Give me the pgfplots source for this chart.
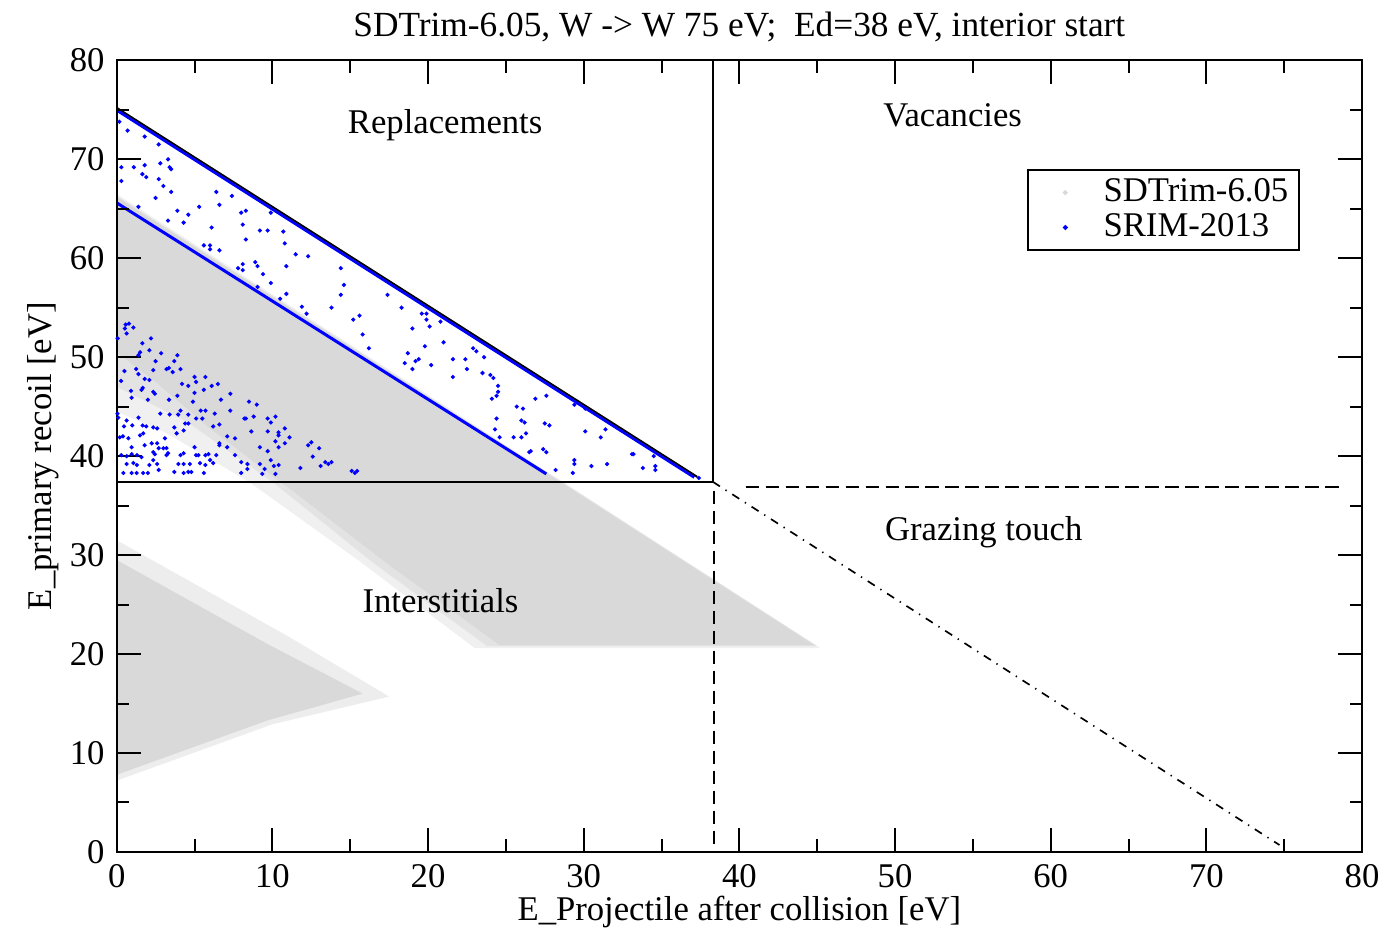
\documentclass[border=0pt]{standalone}
\usepackage{fontspec}
\setmainfont{Liberation Serif}
\usepackage{pgfplots}
\pgfplotsset{compat=1.18}

% SRIM-2013 points (band between the two lines)
\pgfplotstableread{
x y
0.17 73.8
0.7 72.9
1.8 72.3
2.7 71.5
3.3 70.0
2.8 69.6
1.8 69.4
1.1 69.2
0.3 69.2
3.4 69.2
3.5 69.0
1.65 68.5
1.9 68.2
2.7 68.0
0.3 67.8
3.0 67.3
3.5 66.7
6.4 66.7
7.4 66.3
2.5 66.1
6.6 65.4
5.3 65.2
1.4 65.2
3.9 64.8
8.0 64.6
8.3 64.8
9.9 64.6
4.6 64.4
3.3 63.8
4.3 63.6
8.1 63.4
6.1 63.1
9.2 62.8
9.7 62.8
10.7 62.7
8.3 61.9
10.8 61.5
5.6 61.3
6.0 61.3
6.0 60.9
6.6 60.8
11.5 60.4
12.3 60.2
8.9 59.6
9.05 59.2
8.1 59.4
8.1 58.8
10.9 59.2
7.8 59.0
9.4 58.4
9.9 57.5
9.05 57.1
10.9 56.4
10.5 55.9
11.9 55.1
14.4 59.0
14.6 57.3
14.4 56.3
17.4 56.3
13.8 55.0
12.2 54.4
15.6 54.2
15.2 53.8
18.3 55.0
19.6 54.4
19.9 54.4
19.9 53.8
20.8 53.6
20.1 53.1
19.0 52.9
15.8 52.3
21.0 51.5
19.8 51.1
16.2 50.9
22.9 50.9
23.1 50.6
18.7 50.4
23.6 50.0
19.4 49.8
19.2 49.6
18.5 49.4
21.6 49.8
22.4 49.8
20.2 49.2
19.0 48.8
22.5 48.8
23.5 48.4
24.0 48.2
24.2 47.9
21.6 48.0
25.7 45.0
26.1 44.8
26.9 45.8
27.6 46.1
24.4 46.1
24.5 46.5
24.1 45.8
24.5 47.1
24.4 43.8
26.0 43.6
26.2 43.4
27.5 43.3
27.8 43.1
26.3 42.3
24.3 42.7
24.6 41.9
25.5 41.9
26.0 41.9
30.1 42.5
31.1 41.9
31.4 42.7
30.1 44.8
29.4 45.2
26.5 40.4
26.6 40.5
27.4 40.7
27.6 40.4
29.4 39.6
29.4 39.2
28.2 38.6
29.3 38.3
30.5 39.0
31.5 39.2
33.1 40.2
33.2 40.2
33.8 38.8
34.6 39.0
34.6 38.6
34.5 40.0
37.4 37.8
}\srimband

% SRIM-2013 points below the lower line
\pgfplotstableread{
x y
0.58 53.3
0.79 53.4
0.53 52.9
0.64 52.4
1.07 53.0
0.06 51.9
1.65 51.4
2.2 51.9
2.1 50.7
2.85 50.4
1.4 50.2
1.5 50.5
3.9 50.2
3.7 49.6
2.5 49.6
0.5 48.6
1.25 48.8
2.35 48.7
3.2 48.8
3.35 48.9
3.6 48.5
4.1 48.8
1.4 48.3
1.8 47.8
2.1 47.7
5.0 48.0
5.7 48.0
4.2 47.3
4.6 47.1
0.28 47.6
0.92 46.6
1.67 46.9
1.6 46.7
2.35 46.5
2.45 46.3
3.36 45.7
5.1 47.5
5.6 46.7
5.0 46.4
6.1 47.1
6.5 47.3
7.3 46.3
3.9 46.1
6.7 45.7
2.0 45.7
0.96 45.9
4.9 45.5
5.7 44.6
5.4 44.6
6.3 44.3
8.2 43.8
2.8 44.3
3.4 44.2
3.95 44.2
4.6 44.2
1.4 43.9
0.05 44.3
0.1 43.9
0.64 43.6
0.47 43.0
1.0 43.1
1.67 43.1
1.9 43.0
2.35 42.9
2.6 42.8
3.7 42.9
4.4 43.3
4.6 43.3
5.1 43.8
5.5 43.8
6.2 43.0
6.6 43.2
7.1 42.0
7.6 41.8
6.6 41.1
4.3 42.6
3.85 42.3
3.1 41.8
1.5 42.1
1.7 42.3
0.2 41.9
0.4 42.0
0.75 41.8
0.96 40.9
1.8 41.1
2.25 41.3
2.6 41.3
2.7 40.8
3.0 40.8
3.2 40.8
3.3 40.3
3.2 40.1
2.35 40.4
2.45 40.2
0.3 40.1
0.64 40.0
0.96 40.2
1.3 40.1
1.6 39.9
0.64 39.2
1.07 39.3
1.3 39.1
0.43 38.3
0.96 38.3
1.28 38.3
1.7 38.3
2.0 38.3
2.1 39.1
2.35 39.6
2.7 38.6
4.1 40.1
4.3 40.3
3.96 39.2
4.3 39.2
3.7 38.4
4.3 38.3
4.6 38.4
5.0 40.9
5.1 40.1
5.25 40.1
5.7 40.1
5.9 40.2
4.7 39.2
5.35 39.3
5.7 39.1
6.0 39.6
6.2 39.3
6.4 40.1
4.8 38.4
5.6 38.3
6.6 41.3
7.1 40.9
7.6 40.1
8.0 38.3
7.3 44.6
4.1 44.6
2.6 39.2
8.5 45.5
9.0 45.2
8.3 43.8
8.8 44.0
9.7 43.8
10.2 44.0
9.9 43.4
8.65 42.5
9.7 42.5
10.4 42.4
10.4 42.1
10.8 42.8
11.1 41.9
10.2 41.5
10.8 41.3
9.2 40.9
10.4 40.9
12.5 41.4
12.3 41.1
13.0 40.8
9.7 40.5
12.6 39.95
9.9 39.6
8.0 39.4
8.4 39.2
9.2 39.2
9.5 38.7
10.1 39.0
10.4 39.1
8.4 38.7
11.8 38.8
13.4 39.4
13.8 39.4
13.6 39.2
13.1 39.0
15.1 38.5
15.3 38.3
15.45 38.5
10.2 38.2
9.35 38.2
}\srimlow

\begin{document}
\fontsize{10.4}{12.5}\selectfont
\begin{tikzpicture}
\begin{axis}[
  width=373.8pt, height=237.6pt, scale only axis,
  xmin=0, xmax=80, ymin=0, ymax=80,
  xtick={0,10,...,80}, ytick={0,10,...,80},
  minor tick num=1,
  tick align=inside,
  major tick length=7.2pt, minor tick length=3.75pt,
  every tick/.style={black, line width=0.6pt},
  axis line style={line width=0.6pt},
  /pgf/number format/assume math mode=true,
  xticklabel style={inner xsep=1.4pt},
  axis on top,
  title={SDTrim-6.05, W -> W 75 eV;\ \ Ed=38 eV, interior start},
  title style={at={(0.5,1)}, anchor=base, yshift=1.3pt,
    font=\fontsize{10.6}{12.5}\selectfont},
  xlabel={E\_Projectile after collision [eV]},
  ylabel={E\_primary recoil [eV]},
  xlabel shift=-4.5pt,
  ylabel shift=-3.9pt,
  legend style={at={(axis cs:58.5,69.0)}, anchor=north west,
    draw=black, line width=0.6pt, inner xsep=1.3pt, inner ysep=0.5pt,
    row sep=-2pt},
  legend cell align=left,
]
% SDTrim-6.05 cloud, drawn as its outline (fade, then dense part)
\addplot[fill=black!6, draw=none, forget plot] coordinates {
  (0,66.5) (45.2,20.6) (23,20.6) (15.5,29.5) (8.5,37.4) (3,42.5) (0,44.5)} -- cycle;
\addplot[fill=black!11, draw=none, forget plot] coordinates {
  (0,66.3) (45,20.8) (23.8,20.8) (16.5,29.2) (10,37.4) (4.5,43.5) (0,47)} -- cycle;
\addplot[fill=black!15, draw=none, forget plot] coordinates {
  (0,66.2) (44.8,20.9) (24.6,20.9) (17.5,29) (11.3,36.5) (10.5,37.4) (6,42.8) (2.5,47.5) (0,50.5)} -- cycle;
\addplot[fill=black!7, draw=none, forget plot] coordinates {
  (0,7.2) (10,12.9) (17.5,15.7) (11,21.8) (0,31.5)} -- cycle;
\addplot[fill=black!15, draw=none, forget plot] coordinates {
  (0,7.8) (9.7,13.3) (15.8,16) (9.7,21) (0,29.5)} -- cycle;
% region borders
\addplot[black, line width=0.6pt, forget plot] coordinates {(0,37.4) (38.3,37.4)};
\addplot[black, line width=0.6pt, forget plot] coordinates {(38.3,37.4) (38.3,80)};
\addplot[black, line width=0.6pt, dash pattern=on 4pt off 2pt, forget plot]
  coordinates {(40.4,36.9) (78.8,36.9)};
\addplot[black, line width=0.6pt, dash pattern=on 4pt off 2pt, forget plot]
  coordinates {(38.4,36.5) (38.4,0.7)};
\addplot[black, line width=0.5pt, dash pattern=on 2.5pt off 2pt on 0.4pt off 2pt, forget plot]
  coordinates {(38.3,37.4) (74.7,0.7)};
% kinematic limits
\addplot[black, line width=0.6pt, forget plot] coordinates {(0,75.2) (37.3,37.9)};
\addplot[blue, line width=0.8pt, forget plot] coordinates {(0,74.95) (37.1,37.85)};
\addplot[blue, line width=0.9pt, forget plot] coordinates {(0,65.6) (27.6,38.2)};
% SRIM-2013 scatter
\addplot[only marks, mark=*, mark size=0.4pt, blue, forget plot] table {\srimband};
\addplot[only marks, mark=*, mark size=0.4pt, blue, forget plot] table {\srimlow};
\addlegendimage{legend image code/.code={\path (0pt,0pt) (18.7pt,0pt);
  \fill[black!15] (9.5pt,0pt) circle (0.4pt);}}
\addlegendentry{SDTrim-6.05}
\addlegendimage{legend image code/.code={\path (0pt,0pt) (18.7pt,0pt);
  \fill[blue] (9.5pt,0pt) circle (0.4pt);}}
\addlegendentry{SRIM-2013}
% region names
\node at (axis cs:21.1,73.4) {Replacements};
\node at (axis cs:53.7,74.4) {Vacancies};
\node at (axis cs:55.7,32.3) {Grazing touch};
\node at (axis cs:20.8,25.4) {Interstitials};
\end{axis}
\path ([xshift=-4.8pt]current bounding box.south west);
\end{tikzpicture}
\end{document}
